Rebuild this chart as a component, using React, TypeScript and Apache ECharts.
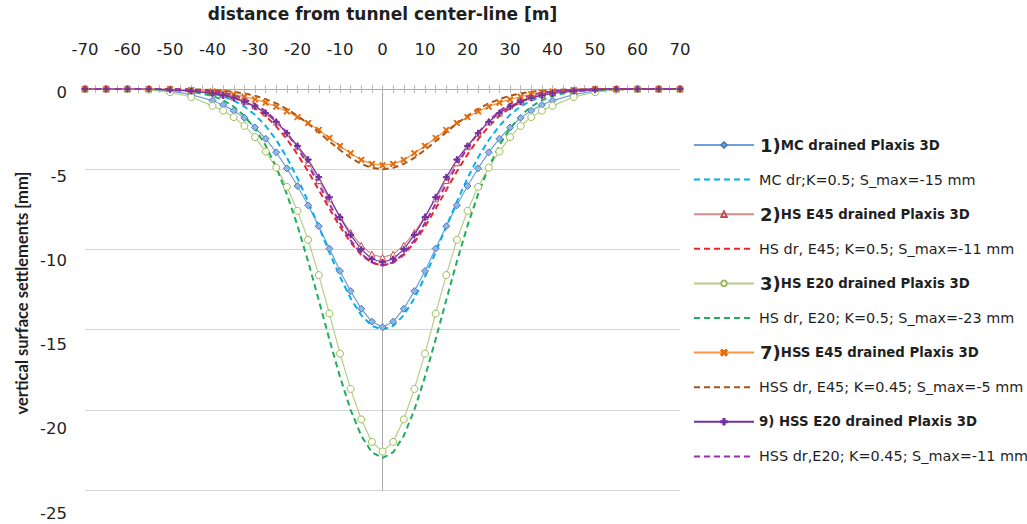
import React, { useEffect, useRef } from "react";
import * as echarts from "echarts";

// distance from tunnel centre-line [m]
const xs = [
  -70, -65, -60, -55, -50, -45, -40, -37.5, -35, -32.5, -30, -27.5, -25, -22.5, -20, -17.5, -15, -12.5, -10, -7.5, -5, -2.5,
  0, 2.5, 5, 7.5, 10, 12.5, 15, 17.5, 20, 22.5, 25, 27.5, 30, 32.5, 35, 37.5, 40, 45, 50, 55, 60, 65, 70,
];

// vertical surface settlements [mm]
const mcPlaxis = [
  0, 0, 0, -0.02, -0.12, -0.35, -0.72, -1.0, -1.35, -1.8, -2.4, -3.1, -3.95, -4.95, -6.05, -7.25, -8.55, -9.95, -11.35, -12.6, -13.7, -14.5,
  -14.85, -14.5, -13.7, -12.6, -11.35, -9.95, -8.55, -7.25, -6.05, -4.95, -3.95, -3.1, -2.4, -1.8, -1.35, -1.0, -0.72, -0.35, -0.12, -0.02, 0, 0, 0,
];
const mcFit = [
  0, 0, 0, -0.01, -0.03, -0.1, -0.28, -0.46, -0.72, -1.09, -1.61, -2.3, -3.18, -4.27, -5.56, -7.02, -8.58, -10.18, -11.7, -13.05, -14.1, -14.77,
  -15, -14.77, -14.1, -13.05, -11.7, -10.18, -8.58, -7.02, -5.56, -4.27, -3.18, -2.3, -1.61, -1.09, -0.72, -0.46, -0.28, -0.1, -0.03, -0.01, 0, 0, 0,
];
const hs45Plaxis = [
  0, 0, 0, 0, -0.02, -0.09, -0.22, -0.35, -0.5, -0.75, -1.05, -1.5, -2.05, -2.75, -3.6, -4.6, -5.7, -6.85, -7.95, -8.95, -9.75, -10.3,
  -10.5, -10.3, -9.75, -8.95, -7.95, -6.85, -5.7, -4.6, -3.6, -2.75, -2.05, -1.5, -1.05, -0.75, -0.5, -0.35, -0.22, -0.09, -0.02, 0, 0, 0, 0,
];
const hs45Fit = [
  0, 0, 0, -0.01, -0.02, -0.07, -0.21, -0.34, -0.53, -0.8, -1.18, -1.68, -2.33, -3.13, -4.08, -5.14, -6.29, -7.46, -8.58, -9.57, -10.34, -10.83,
  -11, -10.83, -10.34, -9.57, -8.58, -7.46, -6.29, -5.14, -4.08, -3.13, -2.33, -1.68, -1.18, -0.8, -0.53, -0.34, -0.21, -0.07, -0.02, -0.01, 0, 0, 0,
];
const hs20Plaxis = [
  0, 0, 0, -0.05, -0.2, -0.5, -1.05, -1.35, -1.75, -2.3, -3.0, -3.9, -4.9, -6.1, -7.6, -9.4, -11.6, -14.0, -16.5, -18.7, -20.6, -22.0,
  -22.6, -22.0, -20.6, -18.7, -16.5, -14.0, -11.6, -9.4, -7.6, -6.1, -4.9, -3.9, -3.0, -2.3, -1.75, -1.35, -1.05, -0.5, -0.2, -0.05, 0, 0, 0,
];
const hs20Fit = [
  0, 0, 0, -0.01, -0.05, -0.15, -0.43, -0.7, -1.1, -1.67, -2.47, -3.52, -4.88, -6.55, -8.52, -10.76, -13.16, -15.61, -17.95, -20.0, -21.62, -22.65,
  -23, -22.65, -21.62, -20.0, -17.95, -15.61, -13.16, -10.76, -8.52, -6.55, -4.88, -3.52, -2.47, -1.67, -1.1, -0.7, -0.43, -0.15, -0.05, -0.01, 0, 0, 0,
];
const hss45Plaxis = [
  0, 0, 0, 0, 0, -0.06, -0.15, -0.22, -0.33, -0.48, -0.65, -0.85, -1.1, -1.4, -1.75, -2.12, -2.55, -3.05, -3.55, -4.0, -4.42, -4.67,
  -4.75, -4.67, -4.42, -4.0, -3.55, -3.05, -2.55, -2.12, -1.75, -1.4, -1.1, -0.85, -0.65, -0.48, -0.33, -0.22, -0.15, -0.06, 0, 0, 0, 0, 0,
];
const hss45Fit = [
  0, 0, 0, 0, -0.01, -0.02, -0.06, -0.11, -0.17, -0.28, -0.42, -0.63, -0.9, -1.25, -1.67, -2.16, -2.7, -3.26, -3.8, -4.29, -4.67, -4.92,
  -5, -4.92, -4.67, -4.29, -3.8, -3.26, -2.7, -2.16, -1.67, -1.25, -0.9, -0.63, -0.42, -0.28, -0.17, -0.11, -0.06, -0.02, -0.01, 0, 0, 0, 0,
];
const hss20Plaxis = [
  0, 0, 0, 0, -0.05, -0.13, -0.28, -0.4, -0.55, -0.8, -1.1, -1.5, -2.05, -2.75, -3.55, -4.4, -5.5, -6.75, -8.0, -9.1, -10.0, -10.6,
  -10.8, -10.6, -10.0, -9.1, -8.0, -6.75, -5.5, -4.4, -3.55, -2.75, -2.05, -1.5, -1.1, -0.8, -0.55, -0.4, -0.28, -0.13, -0.05, 0, 0, 0, 0,
];
const hss20Fit = [
  0, 0, 0, 0, -0.01, -0.04, -0.14, -0.23, -0.38, -0.61, -0.93, -1.38, -1.98, -2.74, -3.67, -4.75, -5.93, -7.16, -8.36, -9.43, -10.27, -10.81,
  -11, -10.81, -10.27, -9.43, -8.36, -7.16, -5.93, -4.75, -3.67, -2.74, -1.98, -1.38, -0.93, -0.61, -0.38, -0.23, -0.14, -0.04, -0.01, 0, 0, 0, 0,
];

const seriesNames = [
  "1)MC drained Plaxis 3D",
  "MC dr;K=0.5; S_max=-15 mm",
  "2)HS E45 drained Plaxis 3D",
  "HS dr, E45; K=0.5; S_max=-11 mm",
  "3)HS E20 drained Plaxis 3D",
  "HS dr, E20; K=0.5; S_max=-23 mm",
  "7)HSS E45 drained Plaxis 3D",
  "HSS dr, E45; K=0.45; S_max=-5 mm",
  "9) HSS E20 drained Plaxis 3D",
  "HSS dr,E20; K=0.45; S_max=-11 mm",
];

const xTicks = { min: -70, max: 70, step: 10 };
const yTicks = { min: -25, max: 0, step: 5 };

const FONT = "DejaVu Sans";
const TEXT = "#1f1f1f";

const CROSS = "path://M0,1.4L1.4,0L5,3.6L8.6,0L10,1.4L6.4,5L10,8.6L8.6,10L5,6.4L1.4,10L0,8.6L3.6,5Z";
const PLUS = "path://M4,0H6V4H10V6H6V10H4V6H0V4H4Z";

const pts = (ys: number[]) => xs.map((x, i) => [x, ys[i]]);

function plaxis(name: string, ys: number[], line: string, symbol: string, size: number, fill: string, border: string) {
  return {
    name,
    type: "line",
    data: pts(ys),
    xAxisIndex: 0,
    yAxisIndex: 0,
    clip: false,
    symbol,
    symbolSize: size,
    showSymbol: true,
    lineStyle: { color: line, width: 1.2 },
    itemStyle: { color: fill, borderColor: border, borderWidth: 1 },
    emphasis: { disabled: true },
  };
}

function fit(name: string, ys: number[], color: string) {
  return {
    name,
    type: "line",
    data: pts(ys),
    xAxisIndex: 0,
    yAxisIndex: 0,
    clip: false,
    symbol: "none",
    showSymbol: false,
    lineStyle: { color, width: 2, type: [6, 4] },
    itemStyle: { color },
    emphasis: { disabled: true },
  };
}

function legendLabel(name: string) {
  const m = /^(\d\))(\S.*)$/.exec(name);
  if (m) return `{num|${m[1]}}{bold|${m[2]}}`;
  if (name.includes("Plaxis")) return `{bold|${name}}`;
  return `{reg|${name}}`;
}

export default function App() {
  const ref = useRef<HTMLDivElement>(null);

  useEffect(() => {
    if (!ref.current) return;
    const chart = echarts.init(ref.current, null, { renderer: "svg" });

    const series = [
      plaxis(seriesNames[0], mcPlaxis, "#6f9fd8", "diamond", 7, "#8fb6e6", "#4a7ebb"),
      fit(seriesNames[1], mcFit, "#00b0f0"),
      plaxis(seriesNames[2], hs45Plaxis, "#d48a88", "triangle", 6, "#ffffff", "#c0504d"),
      fit(seriesNames[3], hs45Fit, "#e8262b"),
      plaxis(seriesNames[4], hs20Plaxis, "#b5cf8a", "circle", 7, "#ffffff", "#9bbb59"),
      fit(seriesNames[5], hs20Fit, "#1fae5a"),
      plaxis(seriesNames[6], hss45Plaxis, "#f79646", CROSS, 6, "#e46c0a", "#e46c0a"),
      fit(seriesNames[7], hss45Fit, "#a5541c"),
      plaxis(seriesNames[8], hss20Plaxis, "#7030a0", PLUS, 6, "#7030a0", "#7030a0"),
      fit(seriesNames[9], hss20Fit, "#9b2fae"),
    ];

    const legends = seriesNames.map((n, i) => {
      const dashed = i % 2 === 1;
      return {
        show: true,
        data: [dashed ? { name: n, itemStyle: { opacity: 0 } } : { name: n }],
        left: 693,
        top: 135 + i * 34.6,
        orient: "horizontal",
        padding: 0,
        itemGap: 0,
        itemWidth: 60,
        itemHeight: 7,
        selectedMode: false,
        formatter: legendLabel,
        textStyle: {
          fontFamily: FONT,
          color: TEXT,
          lineHeight: 20,
          rich: {
            num: { fontFamily: FONT, fontSize: 18, fontWeight: "bold", color: TEXT, lineHeight: 20, padding: [0, 0, 0, 1] },
            bold: { fontFamily: FONT, fontSize: 13.3, fontWeight: "bold", color: TEXT, lineHeight: 20 },
            reg: { fontFamily: FONT, fontSize: 14.4, color: TEXT, lineHeight: 20 },
          },
        },
      };
    });

    const tickColor = "#b8b8b8";

    chart.setOption({
      animation: false,
      backgroundColor: "#ffffff",
      grid: [
        { left: 85, right: 347, top: 85, bottom: 34, containLabel: false },
        { left: 85, right: 347, top: 92, bottom: 11, containLabel: false },
      ],
      legend: legends,
      xAxis: [
        {
          type: "value",
          gridIndex: 0,
          position: "top",
          min: xTicks.min,
          max: xTicks.max,
          interval: xTicks.step,
          name: "distance from tunnel center-line [m]",
          nameLocation: "middle",
          nameGap: 67,
          nameTextStyle: { fontFamily: FONT, fontSize: 17, fontWeight: "bold", color: TEXT },
          axisLine: { show: true, onZero: false, lineStyle: { color: "#a8a8a8", width: 1 } },
          axisTick: { show: true, length: 4, lineStyle: { color: tickColor } },
          minorTick: { show: true, splitNumber: 4, length: 4, lineStyle: { color: tickColor } },
          axisLabel: { margin: 31, fontFamily: FONT, fontSize: 16.5, color: TEXT },
          splitLine: { show: false },
        },
        {
          type: "value",
          gridIndex: 0,
          position: "top",
          min: xTicks.min,
          max: xTicks.max,
          interval: xTicks.step,
          axisLine: { show: false, onZero: false },
          axisTick: { show: true, inside: true, length: 4, lineStyle: { color: tickColor } },
          minorTick: { show: true, splitNumber: 4, length: 4, lineStyle: { color: tickColor } },
          axisLabel: { show: false },
          splitLine: { show: false },
        },
        { type: "value", gridIndex: 1, show: false, min: 0, max: 1 },
      ],
      yAxis: [
        {
          type: "value",
          gridIndex: 0,
          min: yTicks.min,
          max: yTicks.max,
          interval: yTicks.step,
          axisLine: { show: true, onZero: true, lineStyle: { color: "#a8a8a8", width: 1 } },
          axisTick: { show: false },
          axisLabel: { show: false },
          splitLine: { show: true, lineStyle: { color: "#d4d4d4", width: 1 } },
        },
        {
          type: "value",
          gridIndex: 1,
          min: yTicks.min,
          max: yTicks.max,
          interval: yTicks.step,
          axisLine: { show: false },
          axisTick: { show: false },
          axisLabel: { margin: 18, fontFamily: FONT, fontSize: 16.5, color: TEXT },
          splitLine: { show: false },
        },
      ],
      graphic: [
        {
          type: "text",
          x: 22,
          y: 293,
          rotation: Math.PI / 2,
          style: {
            text: "vertical surface settlements [mm]",
            fontFamily: "Lato",
            fontSize: 16.5,
            fontWeight: "bold",
            fill: TEXT,
            align: "center",
            verticalAlign: "middle",
          },
        },
      ],
      series,
    });

    return () => chart.dispose();
  }, []);

  return (
    <div
      ref={ref}
      style={{ position: "fixed", left: 0, top: 0, width: 1027, height: 524, background: "#fff" }}
    />
  );
}
